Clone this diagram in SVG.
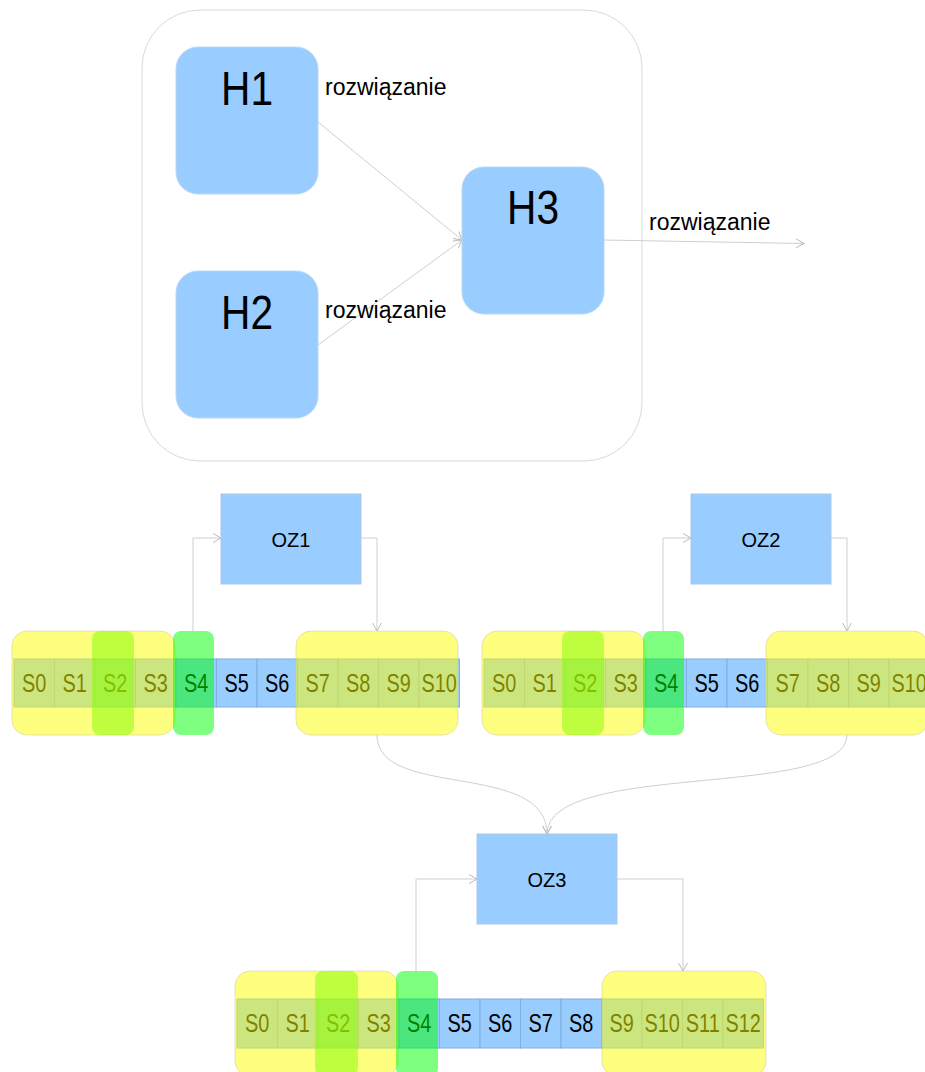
<svg xmlns="http://www.w3.org/2000/svg" width="925" height="1072" viewBox="0 0 925 1072">
  <style>
    text { font-family: "Liberation Sans", Arial, sans-serif; fill: #000; }
    .frame { fill: #fff; stroke: #d9d9d9; stroke-width: 1; }
    .hbox { fill: #99ccff; stroke: #b8d8f5; stroke-width: 1; }
    .hlbl { font-size: 49px; text-anchor: middle; }
    .sol { font-size: 23px; }
    .oz { fill: #99ccff; stroke: #a9c9ea; stroke-width: 1; }
    .ozl { font-size: 20px; text-anchor: middle; }
    .cell { fill: #99ccff; stroke: #7eb0e0; stroke-width: 1; }
    .sl { font-size: 25.5px; text-anchor: middle; }
    .yel { fill: #ffff00; fill-opacity: 0.5; stroke: #c8c8a0; stroke-opacity: 0.5; }
    .lime { fill: #80ff00; fill-opacity: 0.5; }
    .grn { fill: #00ff00; fill-opacity: 0.5; }
    .conn { fill: none; stroke: #cfcfcf; stroke-width: 1; }
  </style>
  <defs>
    <marker id="arrow" markerUnits="userSpaceOnUse" markerWidth="12" markerHeight="12" viewBox="-10 -6 12 12" refX="0" refY="0" orient="auto">
      <path d="M-8,-4.5 L0,0 L-8,4.5" fill="none" stroke="#bdbdbd" stroke-width="1"/>
    </marker>
  </defs>

  <!-- outer frame around H1..H3 -->
  <g id="frame">
    <rect class="frame" x="142" y="10" width="500" height="451" rx="58" ry="58"/>
  </g>

  <!-- connectors -->
  <g id="connectors">
    <line class="conn" x1="318" y1="122" x2="462" y2="240" marker-end="url(#arrow)"/>
    <line class="conn" x1="318" y1="345" x2="462" y2="240" marker-end="url(#arrow)"/>
    <line class="conn" x1="604" y1="240" x2="804" y2="243.5" marker-end="url(#arrow)"/>
    <path class="conn" d="M193,631 V538 H221" marker-end="url(#arrow)"/>
    <path class="conn" d="M361,538 H377 V631" marker-end="url(#arrow)"/>
    <path class="conn" d="M663,631 V538 H691" marker-end="url(#arrow)"/>
    <path class="conn" d="M831,538 H847 V631" marker-end="url(#arrow)"/>
    <path class="conn" d="M377,735 C377,800 547,760 547,834" marker-end="url(#arrow)"/>
    <path class="conn" d="M847,735 C847,800 547,760 547,834" marker-end="url(#arrow)"/>
    <path class="conn" d="M416,971 V879 H477" marker-end="url(#arrow)"/>
    <path class="conn" d="M617,879 H683 V971" marker-end="url(#arrow)"/>
  </g>

  <!-- heuristic boxes -->
  <g id="H1">
    <rect class="hbox" x="176" y="47" width="142" height="147" rx="22" ry="22"/>
    <text class="hlbl" transform="translate(247 105) scale(0.83 1)">H1</text>
  </g>
  <g id="H2">
    <rect class="hbox" x="176" y="271" width="142" height="147" rx="22" ry="22"/>
    <text class="hlbl" transform="translate(247 329) scale(0.83 1)">H2</text>
  </g>
  <g id="H3">
    <rect class="hbox" x="462" y="167" width="142" height="147" rx="22" ry="22"/>
    <text class="hlbl" transform="translate(533 224) scale(0.83 1)">H3</text>
  </g>
  <g id="labels">
    <text class="sol" x="325" y="95">rozwiązanie</text>
    <text class="sol" x="325" y="318">rozwiązanie</text>
    <text class="sol" x="649" y="230">rozwiązanie</text>
  </g>

  <!-- operators -->
  <g id="OZ1">
    <rect class="oz" x="221" y="494" width="140" height="90"/>
    <text class="ozl" x="291" y="547">OZ1</text>
  </g>
  <g id="OZ2">
    <rect class="oz" x="691" y="494" width="140" height="90"/>
    <text class="ozl" x="761" y="547">OZ2</text>
  </g>
  <g id="OZ3">
    <rect class="oz" x="477" y="834" width="140" height="90"/>
    <text class="ozl" x="547" y="887">OZ3</text>
  </g>

  <!-- first chromosome strip -->
  <g id="strip1">
    <rect class="cell" x="14" y="659" width="40.5" height="48"/>
    <rect class="cell" x="54.5" y="659" width="40.5" height="48"/>
    <rect class="cell" x="95" y="659" width="40.5" height="48"/>
    <rect class="cell" x="135.5" y="659" width="40.5" height="48"/>
    <rect class="cell" x="176" y="659" width="40.5" height="48"/>
    <rect class="cell" x="216.5" y="659" width="40.5" height="48"/>
    <rect class="cell" x="257" y="659" width="40.5" height="48"/>
    <rect class="cell" x="297.5" y="659" width="40.5" height="48"/>
    <rect class="cell" x="338" y="659" width="40.5" height="48"/>
    <rect class="cell" x="378.5" y="659" width="40.5" height="48"/>
    <rect class="cell" x="419" y="659" width="40.5" height="48"/>
    <text class="sl" transform="translate(34.25 692) scale(0.78 1)">S0</text>
    <text class="sl" transform="translate(74.75 692) scale(0.78 1)">S1</text>
    <text class="sl" transform="translate(115.25 692) scale(0.78 1)">S2</text>
    <text class="sl" transform="translate(155.75 692) scale(0.78 1)">S3</text>
    <text class="sl" transform="translate(196.25 692) scale(0.78 1)">S4</text>
    <text class="sl" transform="translate(236.75 692) scale(0.78 1)">S5</text>
    <text class="sl" transform="translate(277.25 692) scale(0.78 1)">S6</text>
    <text class="sl" transform="translate(317.75 692) scale(0.78 1)">S7</text>
    <text class="sl" transform="translate(358.25 692) scale(0.78 1)">S8</text>
    <text class="sl" transform="translate(398.75 692) scale(0.78 1)">S9</text>
    <text class="sl" transform="translate(439.25 692) scale(0.78 1)">S10</text>
    <rect class="yel" x="12" y="631" width="163" height="104" rx="15" ry="15"/>
    <rect class="lime" x="92" y="631" width="42" height="104" rx="8" ry="8"/>
    <rect class="grn" x="173" y="631" width="41" height="104" rx="8" ry="8"/>
    <rect class="yel" x="296" y="631" width="162" height="104" rx="15" ry="15"/>
  </g>

  <!-- second chromosome strip -->
  <g id="strip2">
    <rect class="cell" x="484" y="659" width="40.5" height="48"/>
    <rect class="cell" x="524.5" y="659" width="40.5" height="48"/>
    <rect class="cell" x="565" y="659" width="40.5" height="48"/>
    <rect class="cell" x="605.5" y="659" width="40.5" height="48"/>
    <rect class="cell" x="646" y="659" width="40.5" height="48"/>
    <rect class="cell" x="686.5" y="659" width="40.5" height="48"/>
    <rect class="cell" x="727" y="659" width="40.5" height="48"/>
    <rect class="cell" x="767.5" y="659" width="40.5" height="48"/>
    <rect class="cell" x="808" y="659" width="40.5" height="48"/>
    <rect class="cell" x="848.5" y="659" width="40.5" height="48"/>
    <rect class="cell" x="889" y="659" width="40.5" height="48"/>
    <text class="sl" transform="translate(504.25 692) scale(0.78 1)">S0</text>
    <text class="sl" transform="translate(544.75 692) scale(0.78 1)">S1</text>
    <text class="sl" transform="translate(585.25 692) scale(0.78 1)">S2</text>
    <text class="sl" transform="translate(625.75 692) scale(0.78 1)">S3</text>
    <text class="sl" transform="translate(666.25 692) scale(0.78 1)">S4</text>
    <text class="sl" transform="translate(706.75 692) scale(0.78 1)">S5</text>
    <text class="sl" transform="translate(747.25 692) scale(0.78 1)">S6</text>
    <text class="sl" transform="translate(787.75 692) scale(0.78 1)">S7</text>
    <text class="sl" transform="translate(828.25 692) scale(0.78 1)">S8</text>
    <text class="sl" transform="translate(868.75 692) scale(0.78 1)">S9</text>
    <text class="sl" transform="translate(909.25 692) scale(0.78 1)">S10</text>
    <rect class="yel" x="482" y="631" width="163" height="104" rx="15" ry="15"/>
    <rect class="lime" x="562" y="631" width="42" height="104" rx="8" ry="8"/>
    <rect class="grn" x="643" y="631" width="41" height="104" rx="8" ry="8"/>
    <rect class="yel" x="766" y="631" width="162" height="104" rx="15" ry="15"/>
  </g>

  <!-- combined strip -->
  <g id="strip3">
    <rect class="cell" x="237" y="999" width="40.5" height="49"/>
    <rect class="cell" x="277.5" y="999" width="40.5" height="49"/>
    <rect class="cell" x="318" y="999" width="40.5" height="49"/>
    <rect class="cell" x="358.5" y="999" width="40.5" height="49"/>
    <rect class="cell" x="399" y="999" width="40.5" height="49"/>
    <rect class="cell" x="439.5" y="999" width="40.5" height="49"/>
    <rect class="cell" x="480" y="999" width="40.5" height="49"/>
    <rect class="cell" x="520.5" y="999" width="40.5" height="49"/>
    <rect class="cell" x="561" y="999" width="40.5" height="49"/>
    <rect class="cell" x="601.5" y="999" width="40.5" height="49"/>
    <rect class="cell" x="642" y="999" width="40.5" height="49"/>
    <rect class="cell" x="682.5" y="999" width="40.5" height="49"/>
    <rect class="cell" x="723" y="999" width="40.5" height="49"/>
    <text class="sl" transform="translate(257.25 1032) scale(0.78 1)">S0</text>
    <text class="sl" transform="translate(297.75 1032) scale(0.78 1)">S1</text>
    <text class="sl" transform="translate(338.25 1032) scale(0.78 1)">S2</text>
    <text class="sl" transform="translate(378.75 1032) scale(0.78 1)">S3</text>
    <text class="sl" transform="translate(419.25 1032) scale(0.78 1)">S4</text>
    <text class="sl" transform="translate(459.75 1032) scale(0.78 1)">S5</text>
    <text class="sl" transform="translate(500.25 1032) scale(0.78 1)">S6</text>
    <text class="sl" transform="translate(540.75 1032) scale(0.78 1)">S7</text>
    <text class="sl" transform="translate(581.25 1032) scale(0.78 1)">S8</text>
    <text class="sl" transform="translate(621.75 1032) scale(0.78 1)">S9</text>
    <text class="sl" transform="translate(662.25 1032) scale(0.78 1)">S10</text>
    <text class="sl" transform="translate(702.75 1032) scale(0.78 1)">S11</text>
    <text class="sl" transform="translate(743.25 1032) scale(0.78 1)">S12</text>
    <rect class="yel" x="235" y="971" width="163" height="105" rx="15" ry="15"/>
    <rect class="lime" x="315" y="971" width="43" height="105" rx="8" ry="8"/>
    <rect class="grn" x="396" y="971" width="42" height="105" rx="8" ry="8"/>
    <rect class="yel" x="602" y="971" width="164" height="105" rx="15" ry="15"/>
  </g>
</svg>
